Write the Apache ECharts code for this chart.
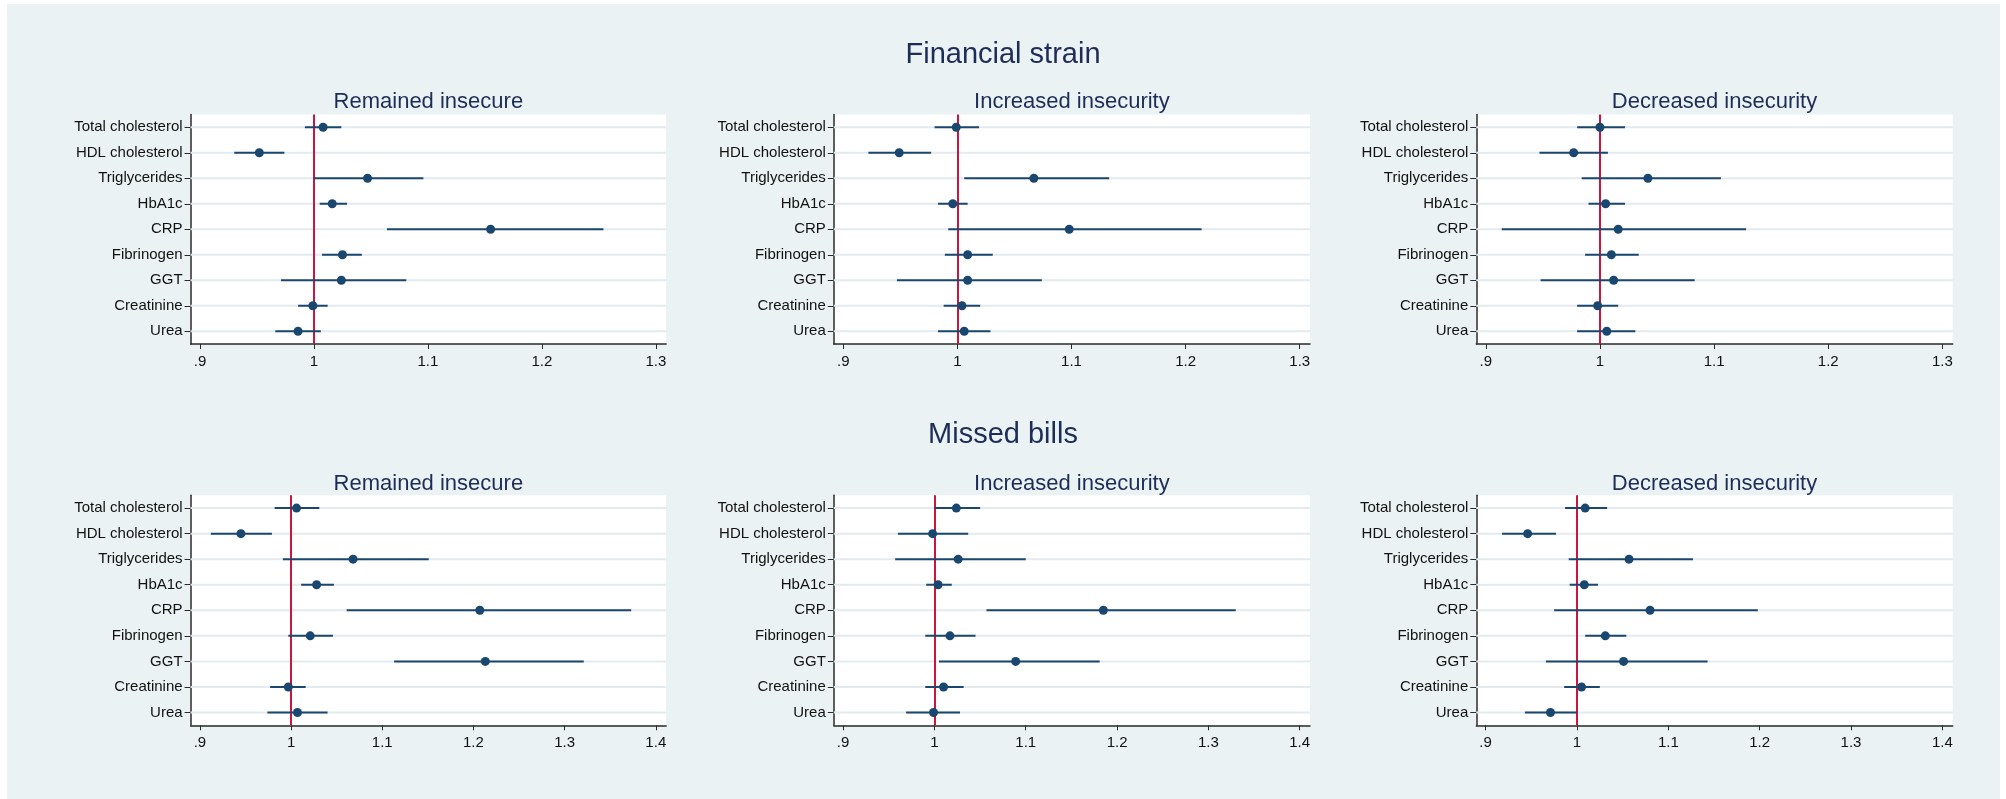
<!DOCTYPE html>
<html>
<head>
<meta charset="utf-8">
<script src="https://cdn.jsdelivr.net/npm/echarts@6/dist/echarts.min.js"></script>
<style>
  html, body { margin: 0; padding: 0; background: #ffffff; }
  #chart { width: 2006px; height: 799px; }
</style>
</head>
<body>
<div id="chart"></div>
<script>
// ---------------- DATA ----------------
const categories = ['Total cholesterol', 'HDL cholesterol', 'Triglycerides', 'HbA1c', 'CRP', 'Fibrinogen', 'GGT', 'Creatinine', 'Urea'];

const rowTitles = ['Financial strain', 'Missed bills'];
const panelTitles = ['Remained insecure', 'Increased insecurity', 'Decreased insecurity'];

const ticksTop = [0.9, 1, 1.1, 1.2, 1.3];
const ticksBottom = [0.9, 1, 1.1, 1.2, 1.3, 1.4];
const refValue = 1;

// Financial strain – Remained insecure
const fsRemainedEst = [1.008, 0.952, 1.047, 1.016, 1.155, 1.025, 1.024, 0.999, 0.986];
const fsRemainedLo  = [0.992, 0.930, 1.000, 1.005, 1.064, 1.007, 0.971, 0.986, 0.966];
const fsRemainedHi  = [1.024, 0.974, 1.096, 1.029, 1.254, 1.042, 1.081, 1.012, 1.006];

// Financial strain – Increased insecurity
const fsIncreasedEst = [0.999, 0.949, 1.067, 0.996, 1.098, 1.009, 1.009, 1.004, 1.006];
const fsIncreasedLo  = [0.980, 0.922, 1.006, 0.983, 0.992, 0.989, 0.947, 0.988, 0.983];
const fsIncreasedHi  = [1.019, 0.977, 1.133, 1.009, 1.214, 1.031, 1.074, 1.020, 1.029];

// Financial strain – Decreased insecurity
const fsDecreasedEst = [1.000, 0.977, 1.042, 1.005, 1.016, 1.010, 1.012, 0.998, 1.006];
const fsDecreasedLo  = [0.980, 0.947, 0.984, 0.990, 0.914, 0.987, 0.948, 0.980, 0.980];
const fsDecreasedHi  = [1.022, 1.007, 1.106, 1.022, 1.128, 1.034, 1.083, 1.016, 1.031];

// Missed bills – Remained insecure
const mbRemainedEst = [1.006, 0.945, 1.068, 1.028, 1.207, 1.021, 1.213, 0.997, 1.007];
const mbRemainedLo  = [0.982, 0.912, 0.991, 1.011, 1.061, 0.997, 1.113, 0.977, 0.974];
const mbRemainedHi  = [1.031, 0.979, 1.151, 1.047, 1.373, 1.046, 1.321, 1.016, 1.040];

// Missed bills – Increased insecurity
const mbIncreasedEst = [1.024, 0.998, 1.026, 1.004, 1.185, 1.017, 1.089, 1.010, 0.999];
const mbIncreasedLo  = [1.000, 0.960, 0.957, 0.991, 1.057, 0.990, 1.005, 0.990, 0.969];
const mbIncreasedHi  = [1.050, 1.037, 1.100, 1.019, 1.330, 1.045, 1.181, 1.032, 1.028];

// Missed bills – Decreased insecurity
const mbDecreasedEst = [1.009, 0.946, 1.057, 1.008, 1.080, 1.031, 1.051, 1.005, 0.971];
const mbDecreasedLo  = [0.987, 0.918, 0.991, 0.992, 0.975, 1.009, 0.966, 0.986, 0.943];
const mbDecreasedHi  = [1.033, 0.977, 1.127, 1.023, 1.198, 1.054, 1.143, 1.025, 1.000];

// ---------------- LAYOUT / STYLE ----------------
const panels = [
  { est: fsRemainedEst,  lo: fsRemainedLo,  hi: fsRemainedHi,  row: 0, col: 0 },
  { est: fsIncreasedEst, lo: fsIncreasedLo, hi: fsIncreasedHi, row: 0, col: 1 },
  { est: fsDecreasedEst, lo: fsDecreasedLo, hi: fsDecreasedHi, row: 0, col: 2 },
  { est: mbRemainedEst,  lo: mbRemainedLo,  hi: mbRemainedHi,  row: 1, col: 0 },
  { est: mbIncreasedEst, lo: mbIncreasedLo, hi: mbIncreasedHi, row: 1, col: 1 },
  { est: mbDecreasedEst, lo: mbDecreasedLo, hi: mbDecreasedHi, row: 1, col: 2 }
];
const colLeft = [190.6, 833.8, 1476.3];
const colWidth = [475.5, 476.2, 476.4];
const rowTop = [114.5, 495.3];
const rowHeight = [229.5, 230];
const rowRange = [[0.8917, 1.3090], [0.8898, 1.4113]];
const rowTicks = [ticksTop, ticksBottom];
const rowTitleY = [54.5, 435];
const panelTitleY = [101.5, 483.5];

const FONT = '"Liberation Sans", Arial, Helvetica, sans-serif';
const NAVY = '#1A476F';
const TITLE_COLOR = '#1E2D57';
const AXIS_COLOR = '#2a2a2a';
const GRID_COLOR = '#E3EBEE';
const REF_COLOR = '#C8163E';

function fmtTick(v) {
  const s = String(Number(v.toFixed(2)));
  return s.startsWith('0.') ? s.slice(1) : s;
}

const grids = [], xAxes = [], yAxes = [], series = [], graphics = [];

graphics.push({
  type: 'rect', z: -10, silent: true,
  shape: { x: 7, y: 4, width: 1993, height: 795 },
  style: { fill: '#EAF2F3' }
});
rowTitles.forEach((t, r) => {
  graphics.push({
    type: 'text', silent: true, x: 1003, y: rowTitleY[r],
    style: { text: t, font: '29px ' + FONT, fill: TITLE_COLOR, align: 'center', verticalAlign: 'middle' }
  });
});

panels.forEach((p, i) => {
  const left = colLeft[p.col], width = colWidth[p.col];
  const top = rowTop[p.row], height = rowHeight[p.row];
  grids.push({ left: left, top: top, width: width, height: height, backgroundColor: '#ffffff', show: true, borderWidth: 0 });

  graphics.push({
    type: 'text', silent: true, x: left + width / 2, y: panelTitleY[p.row],
    style: { text: panelTitles[p.col], font: '22px ' + FONT, fill: TITLE_COLOR, align: 'center', verticalAlign: 'middle' }
  });

  xAxes.push({
    type: 'value', gridIndex: i,
    min: rowRange[p.row][0], max: rowRange[p.row][1],
    axisLine: { show: true, onZero: false, lineStyle: { color: AXIS_COLOR, width: 1.5 } },
    axisTick: { show: true, customValues: rowTicks[p.row], length: 5, lineStyle: { color: AXIS_COLOR, width: 1 } },
    axisLabel: { show: true, customValues: rowTicks[p.row], formatter: fmtTick, margin: 10,
                 fontFamily: FONT, fontSize: 15, color: '#111111' },
    splitLine: { show: false }
  });
  yAxes.push({
    type: 'category', gridIndex: i, data: categories, inverse: true,
    axisLine: { show: true, onZero: false, lineStyle: { color: AXIS_COLOR, width: 1.5 } },
    axisTick: { show: true, alignWithLabel: true, length: 6, lineStyle: { color: AXIS_COLOR, width: 1 } },
    axisLabel: { show: true, margin: 8, fontFamily: FONT, fontSize: 15, color: '#111111' },
    splitLine: { show: false }
  });

  // horizontal gridlines at each category
  series.push({
    type: 'custom', xAxisIndex: i, yAxisIndex: i, silent: true, z: 1,
    data: categories.map((c, k) => [k]),
    encode: { y: 0 },
    renderItem: function (params, api) {
      const cs = params.coordSys;
      const yy = api.coord([rowRange[p.row][0], api.value(0)])[1];
      return { type: 'line', shape: { x1: cs.x, y1: yy, x2: cs.x + cs.width, y2: yy },
               style: { stroke: GRID_COLOR, lineWidth: 2 } };
    }
  });

  // confidence intervals
  series.push({
    type: 'custom', xAxisIndex: i, yAxisIndex: i, silent: true, z: 3,
    data: categories.map((c, k) => [k, p.lo[k], p.hi[k]]),
    encode: { y: 0, x: [1, 2] },
    renderItem: function (params, api) {
      const a = api.coord([api.value(1), api.value(0)]);
      const b = api.coord([api.value(2), api.value(0)]);
      return { type: 'line', shape: { x1: a[0], y1: a[1], x2: b[0], y2: b[1] },
               style: { stroke: NAVY, lineWidth: 2 } };
    }
  });

  // point estimates + reference line
  series.push({
    type: 'scatter', xAxisIndex: i, yAxisIndex: i, z: 4, silent: true,
    symbol: 'circle', symbolSize: 9,
    itemStyle: { color: NAVY, opacity: 1 },
    data: categories.map((c, k) => [p.est[k], k]),
    markLine: {
      silent: true, symbol: 'none', animation: false,
      label: { show: false },
      lineStyle: { color: REF_COLOR, width: 2, type: 'solid' },
      data: [{ xAxis: refValue }],
      z: 2
    }
  });
});

const chart = echarts.init(document.getElementById('chart'), null, { renderer: 'canvas' });
chart.setOption({
  animation: false,
  backgroundColor: '#ffffff',
  grid: grids,
  xAxis: xAxes,
  yAxis: yAxes,
  series: series,
  graphic: graphics
});
</script>
</body>
</html>
